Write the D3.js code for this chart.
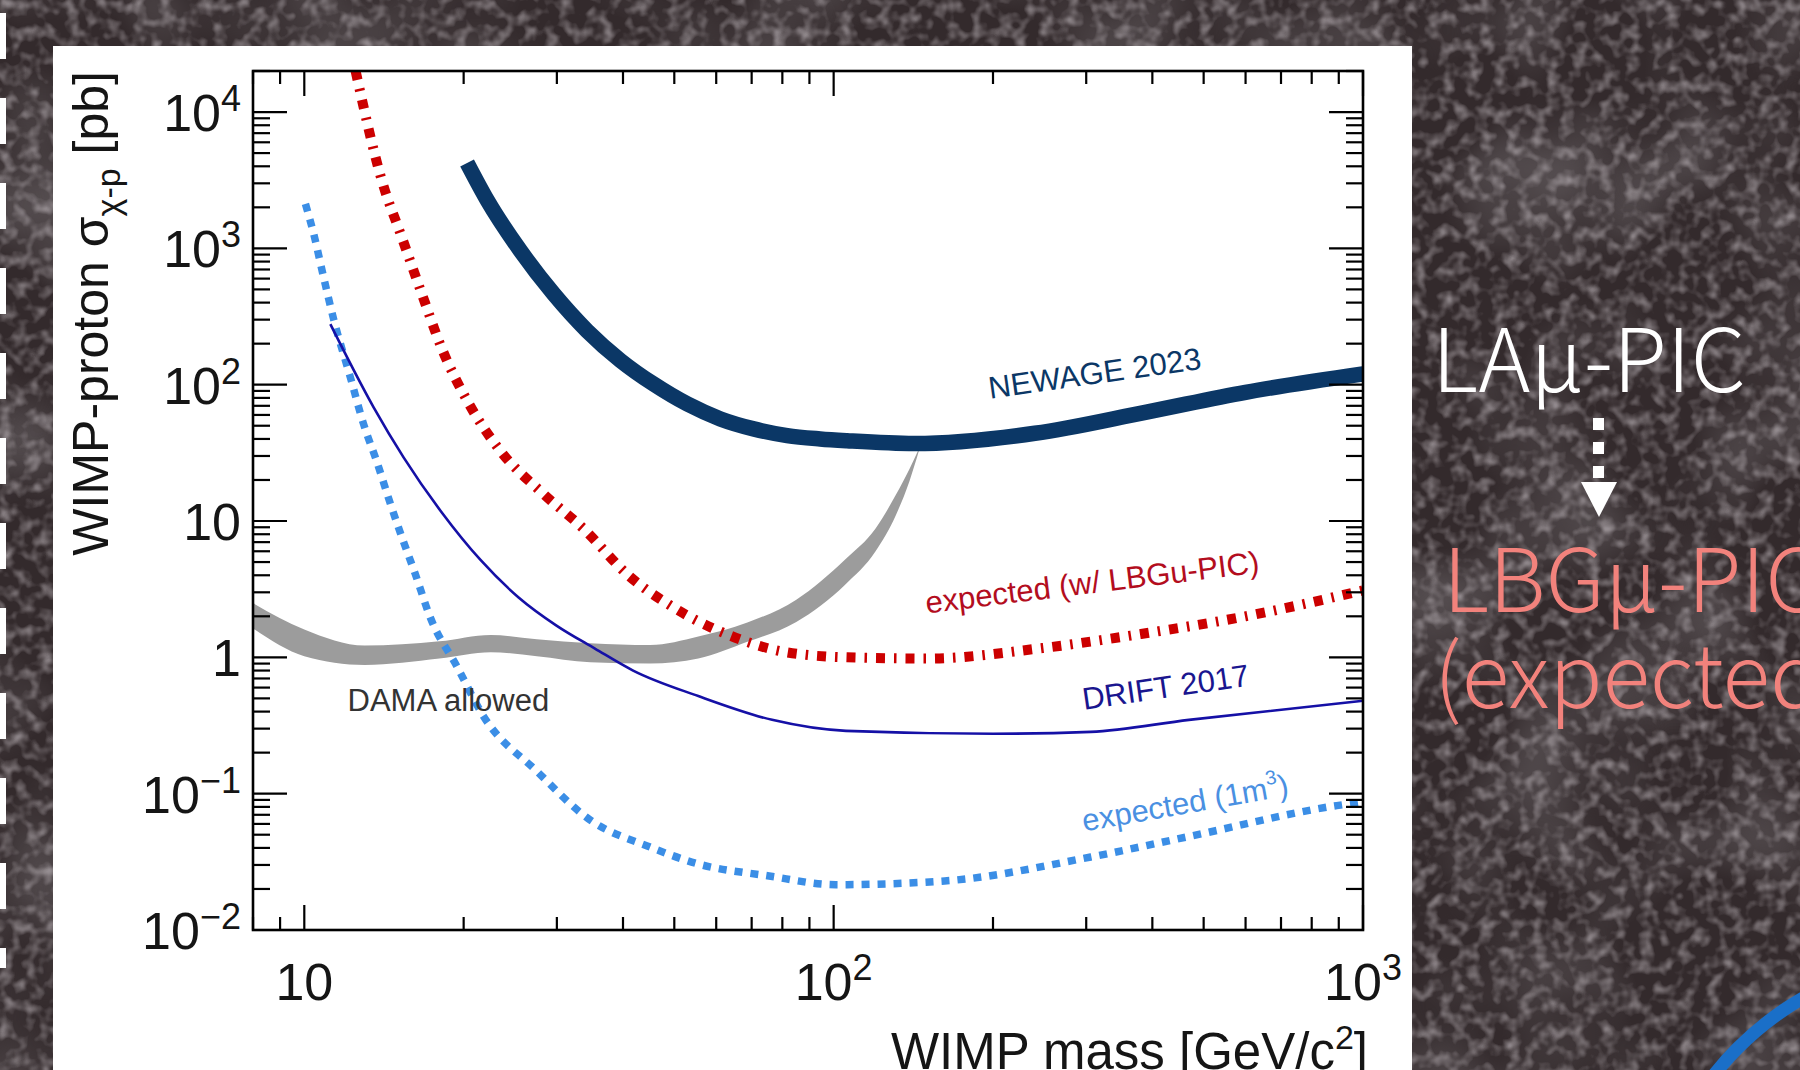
<!DOCTYPE html>
<html>
<head>
<meta charset="utf-8">
<script src="https://cdn.jsdelivr.net/npm/d3@7"></script>
<style>
  html, body { margin: 0; padding: 0; background: #342a2c; overflow: hidden; }
  svg { display: block; }
</style>
</head>
<body>
<svg id="slide" width="1800" height="1070"></svg>
<script>
// ---- data (mass in GeV/c^2, cross section in pb) ----
var newageMass  = [20.3, 22.2, 25.6, 29.6, 34.2, 39.6, 45.7, 52.9, 61.1, 70.6, 81.7, 94.3, 106, 142, 240, 390, 600, 1000];
var newageSigma = [4230, 2228, 960, 462, 249, 150, 101, 72.2, 56.1, 47.4, 42.3, 40, 38.8, 37, 44, 63, 88, 120];

var lbgMass  = [12.5, 14.02, 15.29, 16.68, 18.2, 20.4, 23.6, 28.3, 33.7, 40.95, 49.4, 63.3, 81.4, 106, 150, 248, 379, 600, 1000];
var lbgSigma = [20000, 3123, 1200, 462, 183, 74, 31.8, 15.8, 8.77, 3.99, 2.37, 1.46, 1.09, 1.0, 0.98, 1.17, 1.48, 2.0, 3.1];

var driftMass  = [11.2, 13.52, 15.4, 18.2, 21.5, 25.4, 29.95, 35.4, 41.8, 55.5, 76.5, 105.5, 200, 306, 469, 1000];
var driftSigma = [278, 68.2, 29.3, 11.5, 5.2, 2.75, 1.71, 1.16, 0.80, 0.52, 0.348, 0.289, 0.275, 0.284, 0.348, 0.48];

var m3Mass  = [10.05, 10.42, 10.88, 11.36, 12.22, 12.94, 13.72, 14.54, 15.29, 16.2, 17.3, 19.45, 21.8, 27.5, 34.7, 45, 55.5, 75, 101, 162, 306, 469, 892, 1000];
var m3Sigma = [2120, 1271, 611, 303, 113, 51.5, 27, 13.4, 7.6, 4.1, 1.96, 0.85, 0.37, 0.146, 0.064, 0.0406, 0.0305, 0.025, 0.0215, 0.0229, 0.0343, 0.0485, 0.0817, 0.087];

var damaMass  = [8, 10, 13, 18, 22.5, 27.5, 34.7, 45, 55.5, 68.7, 85, 105, 120, 131, 139, 145];
var damaUpper = [2.5, 1.6, 1.22, 1.31, 1.46, 1.36, 1.27, 1.23, 1.42, 1.8, 2.65, 5.2, 8.8, 15.5, 24, 34];
var damaLower = [1.63, 1.02, 0.88, 0.98, 1.09, 1.02, 0.92, 0.90, 0.98, 1.3, 1.82, 3.4, 6.0, 11.0, 19.5, 33];

// tick labels
var xLabelValues = [10, 100, 1000];
var xLabelBases  = ["10", "10", "10"];
var xLabelExps   = ["", "2", "3"];
var yLabelValues = [1e4, 1e3, 1e2, 10, 1, 0.1, 0.01];
var yLabelBases  = ["10", "10", "10", "10", "1", "10", "10"];
var yLabelExps   = ["4", "3", "2", "", "", "\u22121", "\u22122"];

// curve annotations: text, anchor mass, anchor sigma
var annoText  = ["NEWAGE 2023", "expected (w/ LBGu-PIC)", "DRIFT 2017", "expected (1m", "DAMA allowed"];
var annoMass  = [197.5, 150, 297, 297, 12.07];
var annoSigma = [79, 2.1, 0.413, 0.0527, 0.402];

function zip(a, b) { return a.map(function (v, i) { return [v, b[i]]; }); }

var svg = d3.select("#slide");
var W = 1800, H = 1070;

// ---- background ----
var defs = svg.append("defs");
var grain = defs.append("filter").attr("id", "grain").attr("x", 0).attr("y", 0).attr("width", 1).attr("height", 1);
grain.append("feTurbulence").attr("type", "fractalNoise").attr("baseFrequency", 0.075).attr("numOctaves", 2).attr("seed", 5);
grain.append("feColorMatrix").attr("type", "matrix")
    .attr("values", "0 0 0 0 0.6  0 0 0 0 0.55  0 0 0 0 0.58  1.3 0 0 0 -0.57");
var blotch = defs.append("filter").attr("id", "blotch").attr("x", 0).attr("y", 0).attr("width", 1).attr("height", 1);
blotch.append("feTurbulence").attr("type", "fractalNoise").attr("baseFrequency", 0.008).attr("numOctaves", 2).attr("seed", 2);
blotch.append("feColorMatrix").attr("type", "matrix")
    .attr("values", "0 0 0 0 0.4  0 0 0 0 0.38  0 0 0 0 0.4  0.7 0 0 0 -0.3");

svg.append("rect").attr("width", W).attr("height", H).attr("fill", "#332a2c");
svg.append("rect").attr("width", W).attr("height", H).attr("filter", "url(#blotch)");
svg.append("rect").attr("width", W).attr("height", H).attr("filter", "url(#grain)");

// white dashes on the left edge
svg.append("line")
    .attr("x1", 3).attr("x2", 3).attr("y1", 13).attr("y2", 968)
    .attr("stroke", "#fff").attr("stroke-width", 6).attr("stroke-dasharray", "46 39");

// blue arc in the bottom-right corner
svg.append("circle")
    .attr("cx", 1960).attr("cy", 1270).attr("r", 314)
    .attr("fill", "none").attr("stroke", "#1a6fc8").attr("stroke-width", 13);

// white panel holding the plot
svg.append("rect").attr("x", 53).attr("y", 46).attr("width", 1359).attr("height", 1030).attr("fill", "#fff");

// ---- plot ----
var frame = { left: 253, right: 1363, top: 71, bottom: 930 };
var x = d3.scaleLog().domain([8, 1000]).range([frame.left, frame.right]);
var y = d3.scaleLog().domain([0.01, 2e4]).range([frame.bottom, frame.top]);

defs.append("clipPath").attr("id", "plotclip")
    .append("rect")
    .attr("x", frame.left).attr("y", frame.top)
    .attr("width", frame.right - frame.left).attr("height", frame.bottom - frame.top);

var plot = svg.append("g").attr("clip-path", "url(#plotclip)");

var line = d3.line()
    .x(function (d) { return x(d[0]); })
    .y(function (d) { return y(d[1]); })
    .curve(d3.curveMonotoneX);

var band = d3.area()
    .x(function (d) { return x(d[0]); })
    .y0(function (d) { return y(d[2]); })
    .y1(function (d) { return y(d[1]); })
    .curve(d3.curveMonotoneX);

/* ------- DAMA band ------- */
plot.append("path")
    .datum(damaMass.map(function (m, i) { return [m, damaUpper[i], damaLower[i]]; }))
    .attr("d", band)
    .attr("fill", "#9c9c9c");

/* ------- limit curves ------- */
plot.append("path").datum(zip(m3Mass, m3Sigma)).attr("d", line)
    .attr("fill", "none").attr("stroke", "#3b8ee6").attr("stroke-width", 7.5)
    .attr("stroke-dasharray", "8 8");

plot.append("path").datum(zip(driftMass, driftSigma)).attr("d", line)
    .attr("fill", "none").attr("stroke", "#1510a6").attr("stroke-width", 2.6);

plot.append("path").datum(zip(lbgMass, lbgSigma)).attr("d", line)
    .attr("fill", "none").attr("stroke", "#cc0000").attr("stroke-width", 10)
    .attr("stroke-dasharray", "9 9 2.5 9");

plot.append("path").datum(zip(newageMass, newageSigma)).attr("d", line)
    .attr("fill", "none").attr("stroke", "#0b3766").attr("stroke-width", 15.5);

/* ------- annotations ------- */
var annoColor = ["#0b3766", "#b30d1e", "#1a168f", "#4a90e2", "#333333"];
var annoAngle = [-8, -7, -8.3, -10, 0];
annoText.forEach(function (t, i) {
    var tx = x(annoMass[i]), ty = y(annoSigma[i]);
    var el = svg.append("text")
        .attr("transform", "translate(" + tx + "," + ty + ") rotate(" + annoAngle[i] + ")")
        .attr("font-family", "Liberation Sans, Arial, sans-serif")
        .attr("font-size", 31)
        .attr("fill", annoColor[i])
        .text(t);
    if (i === 3) {
        el.append("tspan").attr("font-size", 20).attr("dy", -14).text("3");
        el.append("tspan").attr("dy", 14).text(")");
    }
});

/* ------- frame and ticks ------- */
var axes = svg.append("g").attr("stroke", "#000").attr("stroke-width", 2.2);
axes.append("rect")
    .attr("x", frame.left).attr("y", frame.top)
    .attr("width", frame.right - frame.left).attr("height", frame.bottom - frame.top)
    .attr("fill", "none").attr("stroke-width", 2.6);

function isDecade(v) { return Math.abs(Math.log10(v) - Math.round(Math.log10(v))) < 1e-6; }

x.ticks().forEach(function (v) {
    var len = isDecade(v) ? 25 : 13, px = x(v);
    axes.append("line").attr("x1", px).attr("x2", px).attr("y1", frame.bottom).attr("y2", frame.bottom - len);
    axes.append("line").attr("x1", px).attr("x2", px).attr("y1", frame.top).attr("y2", frame.top + len);
});
y.ticks().forEach(function (v) {
    var len = isDecade(v) ? 34 : 17, py = y(v);
    axes.append("line").attr("x1", frame.left).attr("x2", frame.left + len).attr("y1", py).attr("y2", py);
    axes.append("line").attr("x1", frame.right).attr("x2", frame.right - len).attr("y1", py).attr("y2", py);
});

var font = "Liberation Sans, Arial, Helvetica, sans-serif";

function powerLabel(sel, base, exp) {
    sel.append("tspan").text(base);
    if (exp) sel.append("tspan").attr("font-size", 36).attr("dy", -20).text(exp);
}

xLabelValues.forEach(function (v, i) {
    var t = svg.append("text")
        .attr("x", x(v)).attr("y", 1000)
        .attr("text-anchor", "middle")
        .attr("font-family", font).attr("font-size", 52).attr("fill", "#151515");
    powerLabel(t, xLabelBases[i], xLabelExps[i]);
});
yLabelValues.forEach(function (v, i) {
    var t = svg.append("text")
        .attr("x", 241).attr("y", y(v) + 19)
        .attr("text-anchor", "end")
        .attr("font-family", font).attr("font-size", 52).attr("fill", "#151515");
    powerLabel(t, yLabelBases[i], yLabelExps[i]);
});

// axis titles
var xt = svg.append("text")
    .attr("x", 1368).attr("y", 1069)
    .attr("text-anchor", "end")
    .attr("font-family", font).attr("font-size", 51).attr("fill", "#151515");
xt.append("tspan").text("WIMP mass [GeV/c");
xt.append("tspan").attr("font-size", 34).attr("dy", -20).text("2");
xt.append("tspan").attr("dy", 20).text("]");

var yt = svg.append("text")
    .attr("transform", "translate(108,71) rotate(-90)")
    .attr("text-anchor", "end")
    .attr("font-family", font).attr("font-size", 50).attr("fill", "#151515");
yt.append("tspan").text("WIMP-proton \u03c3");
yt.append("tspan").attr("font-size", 34).attr("dy", 12).text("\u03c7-p");
yt.append("tspan").attr("dy", -12).text(" [pb]");

/* ------- slide text on the right ------- */
var thin = "Noto Sans CJK JP, Lato, Noto Sans, sans-serif";
svg.append("text").attr("x", 1432).attr("y", 392)
    .attr("font-family", thin).attr("font-weight", 300).attr("font-size", 88)
    .attr("fill", "#fff").text("LA\u03bc-PIC");

svg.append("line")
    .attr("x1", 1598.5).attr("x2", 1598.5).attr("y1", 418).attr("y2", 479)
    .attr("stroke", "#fff").attr("stroke-width", 11).attr("stroke-dasharray", "12 12");
svg.append("path")
    .attr("d", d3.line()([[1581, 482], [1617, 482], [1599, 517]]) + "Z")
    .attr("fill", "#fff");

svg.append("text").attr("x", 1443).attr("y", 612)
    .attr("font-family", thin).attr("font-weight", 300).attr("font-size", 88)
    .attr("fill", "#f2827c").text("LBG\u03bc-PIC");
svg.append("text").attr("x", 1434).attr("y", 708)
    .attr("font-family", thin).attr("font-weight", 300).attr("font-size", 88)
    .attr("fill", "#f2827c").text("(expected)");
</script>
</body>
</html>
